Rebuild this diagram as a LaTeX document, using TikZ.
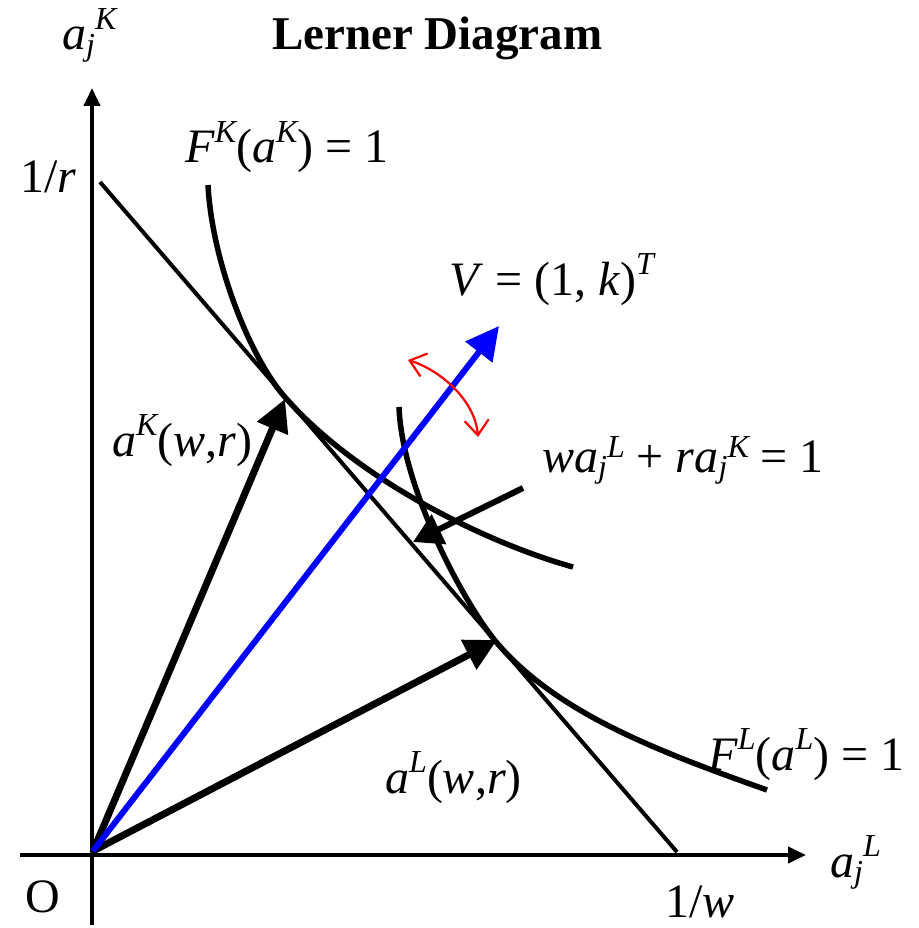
\documentclass[tikz,border=0pt]{standalone}
\usepackage{fontspec}
\setmainfont{Liberation Serif}
\usetikzlibrary{arrows.meta}
\newcommand\hsup[1]{\raisebox{0.43em}{\fontsize{32}{32}\selectfont\itshape #1}}
\newcommand\lsup[1]{\raisebox{0.3em}{\fontsize{32}{32}\selectfont\itshape #1}}
\newcommand\lsub[1]{\raisebox{-0.12em}{\fontsize{32}{32}\selectfont\itshape #1}}
\begin{document}
\begin{tikzpicture}[x=1pt,y=-1pt,
  lab/.style={font=\fontsize{48}{50}\selectfont, inner sep=0pt, anchor=base west},
  axis/.style={line width=4pt, -{Triangle[length=18pt,width=16pt]}},
  curve/.style={line width=5.5pt},
  budget/.style={line width=4pt},
  vec/.style={line width=7pt, -{Triangle[length=32pt,width=32pt]}},
  bluevec/.style={line width=6pt, blue, -{Triangle[length=33pt,width=33pt]}},
  pointer/.style={line width=6pt, -{Triangle[length=29pt,width=32pt]}},
  rot/.style={line width=2.2pt, red, {Straight Barb[length=15pt,width=24pt]}-{Straight Barb[length=15pt,width=24pt]}}
]
\useasboundingbox (0,0) rectangle (918,928);
% coordinates
\coordinate (O) at (93,851);
\coordinate (yb) at (92,925);
\coordinate (yt) at (92,88);
\coordinate (xl) at (20,855);
\coordinate (xr) at (806,855);
\coordinate (br) at (100,182);
\coordinate (bw) at (677,852);
\coordinate (aK) at (285,399);
\coordinate (aL) at (497,640);
\coordinate (Vt) at (499,326);
\coordinate (FKs) at (208,185);
\coordinate (FKt) at (284,396);
\coordinate (FKe) at (573,567);
\coordinate (FLs) at (399,407);
\coordinate (FLt) at (497,643);
\coordinate (FLe) at (767,790);
\coordinate (ps) at (523,488);
\coordinate (pt) at (413,542);
\coordinate (rs) at (408,360);
\coordinate (re) at (478,437);
% axes
\draw[axis] (yb) -- (yt);
\draw[axis] (xl) -- (xr);
% budget line
\draw[budget] (br) -- (bw);
% isoquants
\draw[curve] (FKs) .. controls (212,262) and (250,357) .. (FKt)
             .. controls (354,477) and (483,542) .. (FKe);
\draw[curve] (FLs) .. controls (402,490) and (467,608) .. (FLt)
             .. controls (557,713) and (657,751) .. (FLe);
% vectors
\draw[vec] (O) -- (aK);
\draw[vec] (O) -- (aL);
\draw[bluevec] (O) -- (Vt);
\draw[pointer] (ps) -- (pt);
\draw[rot] (rs) .. controls (440,370) and (475,400) .. (re);
% labels
\node[lab, font=\fontsize{47}{50}\selectfont\bfseries] (title) at (272,50) {Lerner Diagram};
\node[lab] (ylab) at (62,50) {\itshape a\lsub{j}\hsup{K}};
\node[lab] (xlab) at (830,877) {\itshape a\lsub{j}\hsup{L}};
\node[lab] (rlab) at (20,193) {1/\textit{r}};
\node[lab] (wlab) at (665,917) {1/\textit{w}};
\node[lab] (olab) at (25,912) {O};
\node[lab] (FKlab) at (185,163) {\textit{F}\hsup{K}(\textit{a}\hsup{K}) = 1};
\node[lab] (FLlab) at (708,770) {\textit{F}\hsup{L}(\textit{a}\hsup{L}) = 1};
\node[lab] (Vlab) at (449,295) {\textit{V} = (1, \textit{k})\hsup{T}};
\node[lab] (aKlab) at (112,456) {\textit{a}\hsup{K}(\textit{w},\textit{r})};
\node[lab] (aLlab) at (385,793) {\textit{a}\hsup{L}(\textit{w},\textit{r})};
\node[lab] (blab) at (542,472) {\textit{wa}\lsub{j}\lsup{L} + \textit{ra}\lsub{j}\lsup{K} = 1};
\end{tikzpicture}
\end{document}
